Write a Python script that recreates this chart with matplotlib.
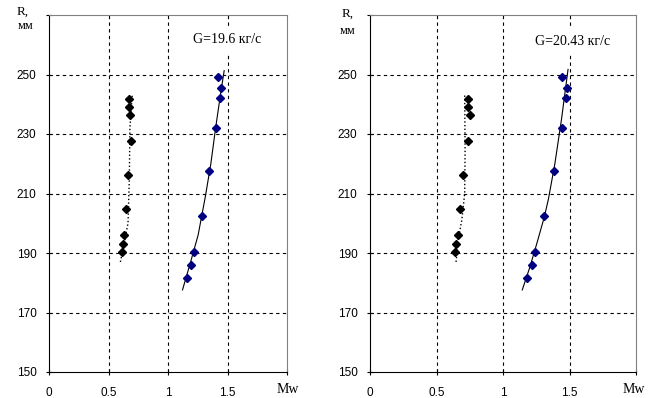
import matplotlib
matplotlib.use("Agg")
import matplotlib.pyplot as plt

# ---- data ---------------------------------------------------------------
R_BLACK = [241.9, 239.0, 236.4, 227.7, 216.2, 204.7, 196.2, 193.1, 190.4]
R_BLUE = [249.0, 245.4, 242.2, 231.9, 217.4, 202.3, 190.2, 185.8, 181.7]

# G = 19.6 kg/s
MW_BLACK_1 = [0.675, 0.675, 0.68, 0.69, 0.66, 0.647, 0.63, 0.62, 0.61]
MW_BLUE_1 = [1.417, 1.442, 1.433, 1.40, 1.347, 1.286, 1.222, 1.197, 1.161]
TREND_DOT_X1 = [0.60, 0.63, 0.664, 0.675, 0.68, 0.70]
TREND_DOT_Y1 = [187.0, 193.0, 200.0, 215.0, 232.0, 243.5]
TREND_SOL_X1 = [1.122, 1.19, 1.253, 1.314, 1.36, 1.40, 1.44, 1.472]
TREND_SOL_Y1 = [177.6, 187.0, 196.0, 209.0, 220.0, 232.0, 243.0, 251.3]

# G = 20.43 kg/s
MW_BLACK_2 = [0.739, 0.739, 0.75, 0.739, 0.699, 0.677, 0.659, 0.644, 0.637]
MW_BLUE_2 = [1.441, 1.481, 1.471, 1.444, 1.386, 1.311, 1.241, 1.218, 1.180]
TREND_DOT_X2 = [0.647, 0.665, 0.69, 0.712, 0.715, 0.712]
TREND_DOT_Y2 = [187.0, 195.0, 201.0, 210.0, 225.0, 243.5]
TREND_SOL_X2 = [1.145, 1.20, 1.253, 1.31, 1.341, 1.39, 1.44, 1.489]
TREND_SOL_Y2 = [177.6, 185.0, 193.0, 202.0, 208.0, 220.0, 235.0, 251.7]

TITLES = ["G=19.6 кг/с", "G=20.43 кг/с"]
X_TICKS = [0, 0.5, 1, 1.5, 2]
X_LABELS = ["0", "0.5", "1", "1.5", ""]
Y_TICKS = [150, 170, 190, 210, 230, 250, 270]
Y_LABELS = ["150", "170", "190", "210", "230", "250", ""]
X_GRID = [0.5, 1, 1.5]
Y_GRID = [170, 190, 210, 230, 250]

SANS = "Liberation Sans"
SERIF = "Liberation Serif"

fig = plt.figure(figsize=(6.53, 3.98), dpi=100)
axes = [fig.add_axes([49 / 653, 26 / 398, 238 / 653, 357 / 398]),
        fig.add_axes([370 / 653, 26 / 398, 266 / 653, 357 / 398])]

panels = [
    (MW_BLACK_1, MW_BLUE_1, TREND_DOT_X1, TREND_DOT_Y1, TREND_SOL_X1, TREND_SOL_Y1),
    (MW_BLACK_2, MW_BLUE_2, TREND_DOT_X2, TREND_DOT_Y2, TREND_SOL_X2, TREND_SOL_Y2),
]
title_pos = [(0.605, 0.931), (0.62, 0.927)]
mw_pos = [1.002, 0.99]

for ax, title, tp, mx, (bx, ux, dx, dy, sx, sy) in zip(axes, TITLES, title_pos,
                                                       mw_pos, panels):
    ax.set_xlim(0, 2)
    ax.set_ylim(150, 270)
    for g in X_GRID:
        ax.axvline(g, color="black", lw=0.8, ls=(0, (3, 3)), zorder=1)
    for g in Y_GRID:
        ax.axhline(g, color="black", lw=0.8, ls=(0, (3, 3)), zorder=1)

    ax.plot(dx, dy, color="black", lw=1.0, ls=":", zorder=2)
    ax.plot(sx, sy, color="black", lw=0.8, zorder=2)
    ax.plot(bx, R_BLACK, ls="none", marker="D", ms=4, color="black", zorder=3)
    ax.plot(ux, R_BLUE, ls="none", marker="D", ms=4, color="#000080", zorder=3)

    ax.set_xticks(X_TICKS)
    ax.set_xticklabels(X_LABELS, fontfamily=SANS, fontsize=8.5)
    ax.set_yticks(Y_TICKS)
    ax.set_yticklabels(Y_LABELS, fontfamily=SANS, fontsize=8.5)
    ax.tick_params(direction="inout", length=5, width=0.8)
    ax.tick_params(axis="x", pad=8)
    ax.tick_params(axis="y", pad=6.5)
    for s in ("top", "right"):
        ax.spines[s].set_color("#808080")
    for s in ("left", "bottom"):
        ax.spines[s].set_color("black")

    ax.text(tp[0], tp[1], title, transform=ax.transAxes, fontfamily=SERIF,
            fontsize=10, ha="left", va="center", zorder=4,
            bbox=dict(facecolor="white", edgecolor="none", pad=5))
    ax.text(mx, -0.048, "Mw", transform=ax.transAxes, fontfamily=SERIF,
            fontsize=10, ha="center", va="center")

fig.text(23 / 653, 1 - 11.5 / 398, "R,", fontfamily=SERIF, fontsize=9.5,
         ha="center", va="center")
fig.text(26 / 653, 1 - 26 / 398, "мм", fontfamily=SERIF, fontsize=9,
         ha="center", va="center")
fig.text(347.5 / 653, 1 - 14 / 398, "R,", fontfamily=SERIF, fontsize=9.5,
         ha="center", va="center")
fig.text(348 / 653, 1 - 31 / 398, "мм", fontfamily=SERIF, fontsize=9,
         ha="center", va="center")

fig.savefig("out.png", dpi=100)
